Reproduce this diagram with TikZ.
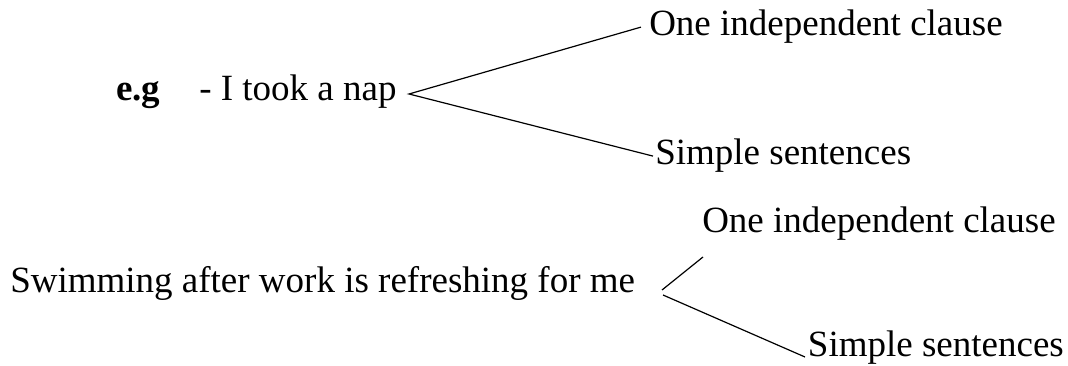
\documentclass[tikz,border=0pt]{standalone}
\usepackage{fontspec}
\setmainfont{Liberation Serif}
\usepackage{tikz}
\usetikzlibrary{positioning}
\newcommand{\bigtxt}{\fontsize{27.75}{33}\selectfont}

\begin{document}
\begin{tikzpicture}[x=0.75pt, y=-0.75pt, word/.style={inner sep=0pt, anchor=base west, font=\bigtxt}, branch/.style={line width=0.9pt}]
                        \useasboundingbox (0,0) rectangle (1068,366);

                        % first example
                        \node[word] (eg) at (116,101) {\textbf{e.g}};
                        \node[word] (nap) at (199,101) {- I took a nap};
                        \coordinate (apexA) at (409,94);
                        \node[word, inner xsep=6pt] (oneA) at (641,36) {One independent clause};
                        \node[word, inner xsep=1.5pt] (simpleA) at (653,165) {Simple sentences};

                        \draw[branch]
                        (oneA.west) -- (apexA) -- (simpleA.west);

                        % second example
                        \node[word] (swim) at (10,293) {Swimming after work is refreshing for me};
                        \node[word] (oneB) at (702,233) {One independent clause};
                        \node[word, inner xsep=2pt] (simpleB) at (805,357) {Simple sentences};
                        \coordinate (apexBup) at (662,290);
                        \coordinate (apexBlow) at (663,295);
                        \coordinate (endBup) at (703,257);

                        \draw[branch]
                        (apexBup) -- (endBup)
                        (apexBlow) -- (simpleB.base west);
                    \end{tikzpicture}
\end{document}
